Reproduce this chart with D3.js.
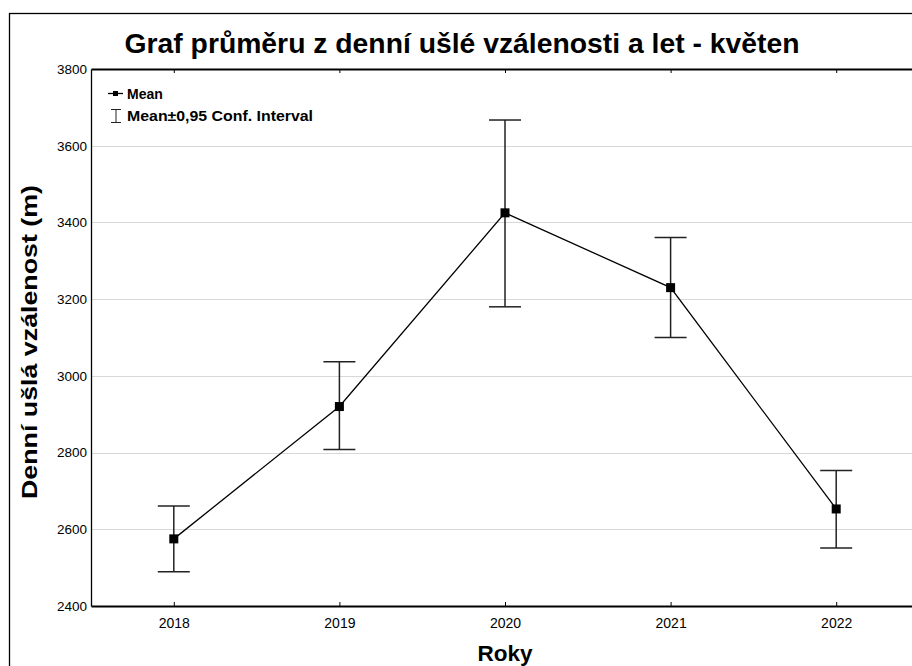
<!DOCTYPE html>
<html>
<head>
<meta charset="utf-8">
<script src="https://cdn.jsdelivr.net/npm/d3@7"></script>
<style>
  body { margin: 0; background: #fff; }
  text { font-family: "Liberation Sans", Arial, sans-serif; }
</style>
</head>
<body>
<svg id="chart"></svg>
<script>
// Data
const years = [2018, 2019, 2020, 2021, 2022];
const means = [2575, 2920, 3425, 3230, 2653];
const upper = [2661, 3037, 3667, 3361, 2753];
const lower = [2489, 2808, 3180, 3100, 2551];
const yTicks = [2400, 2600, 2800, 3000, 3200, 3400, 3600, 3800];

const width = 912;
const height = 666;
const plot = {left: 91, top: 69, right: 919, bottom: 606};

const svg = d3.select("#chart")
  .attr("width", width)
  .attr("height", height);

const xScale = d3.scaleLinear()
  .domain([2017.5, 2022.5])
  .range([plot.left, plot.right]);

const yScale = d3.scaleLinear()
  .domain([2400, 3800])
  .range([plot.bottom, plot.top]);

// outer frame
svg.append("rect")
  .attr("x", 9.5).attr("y", 13.5)
  .attr("width", 1000).attr("height", 1000)
  .attr("fill", "none")
  .attr("stroke", "#000")
  .attr("stroke-width", 1.3);

// gridlines
svg.append("g")
  .selectAll("line")
  .data(yTicks.filter(d => d > 2400 && d < 3800))
  .join("line")
  .attr("x1", plot.left).attr("x2", plot.right)
  .attr("y1", d => Math.round(yScale(d)) + 0.5)
  .attr("y2", d => Math.round(yScale(d)) + 0.5)
  .attr("stroke", "#d8d8d8")
  .attr("stroke-width", 1);

// y axis
const yAxis = svg.append("g")
  .attr("transform", `translate(${plot.left},0)`)
  .call(d3.axisLeft(yScale).tickValues(yTicks).tickFormat(d3.format("d")).tickSize(0).tickPadding(4));
yAxis.select(".domain").attr("stroke-width", 1.3);
yAxis.selectAll("text")
  .attr("font-size", 13.5)
  .attr("font-family", "Liberation Sans, Arial, sans-serif")
  .attr("fill", "#000");

// x axis bottom
const xAxis = svg.append("g")
  .attr("transform", `translate(0,${plot.bottom})`)
  .call(d3.axisBottom(xScale).tickValues(years).tickFormat(d3.format("d")).tickSizeInner(-4).tickSizeOuter(0).tickPadding(12));
xAxis.select(".domain").attr("stroke-width", 2);
xAxis.selectAll("text")
  .attr("font-size", 14)
  .attr("font-family", "Liberation Sans, Arial, sans-serif")
  .attr("fill", "#000");

// x axis top
const xTop = svg.append("g")
  .attr("transform", `translate(0,${plot.top})`)
  .call(d3.axisTop(xScale).tickValues(years).tickFormat("").tickSizeInner(-4).tickSizeOuter(0));
xTop.select(".domain").attr("stroke-width", 2);

// connecting line
const line = d3.line()
  .x((d, i) => xScale(years[i]))
  .y(d => yScale(d));

svg.append("path")
  .datum(means)
  .attr("d", line)
  .attr("fill", "none")
  .attr("stroke", "#000")
  .attr("stroke-width", 1.3);

// error bars
const capHalf = 16;
const bars = svg.append("g")
  .selectAll("g")
  .data(years)
  .join("g")
  .attr("stroke", "#222")
  .attr("stroke-width", 1.5);

bars.append("line")
  .attr("x1", d => xScale(d)).attr("x2", d => xScale(d))
  .attr("y1", (d, i) => yScale(upper[i]))
  .attr("y2", (d, i) => yScale(lower[i]));
bars.append("line")
  .attr("x1", d => xScale(d) - capHalf).attr("x2", d => xScale(d) + capHalf)
  .attr("y1", (d, i) => yScale(upper[i]))
  .attr("y2", (d, i) => yScale(upper[i]));
bars.append("line")
  .attr("x1", d => xScale(d) - capHalf).attr("x2", d => xScale(d) + capHalf)
  .attr("y1", (d, i) => yScale(lower[i]))
  .attr("y2", (d, i) => yScale(lower[i]));

// markers
svg.append("g")
  .selectAll("rect")
  .data(years)
  .join("rect")
  .attr("x", d => xScale(d) - 4.5)
  .attr("y", (d, i) => yScale(means[i]) - 4.5)
  .attr("width", 9)
  .attr("height", 9)
  .attr("fill", "#000");

// legend
const legend = svg.append("g");
legend.append("line")
  .attr("x1", 108).attr("x2", 123)
  .attr("y1", 93.5).attr("y2", 93.5)
  .attr("stroke", "#000").attr("stroke-width", 1.3);
legend.append("rect")
  .attr("x", 113).attr("y", 91).attr("width", 5).attr("height", 5)
  .attr("fill", "#000");
legend.append("text")
  .attr("x", 127).attr("y", 99)
  .attr("font-size", 14).attr("font-weight", "bold")
  .text("Mean");
legend.append("path")
  .attr("d", "M111,109.5H121M116,109.5V122.5M111,122.5H121")
  .attr("stroke", "#222").attr("stroke-width", 1)
  .attr("fill", "none");
legend.append("text")
  .attr("x", 127).attr("y", 121)
  .attr("font-size", 14).attr("font-weight", "bold")
  .attr("textLength", 186)
  .attr("lengthAdjust", "spacingAndGlyphs")
  .text("Mean±0,95 Conf. Interval");

// title
svg.append("text")
  .attr("x", 462).attr("y", 53)
  .attr("text-anchor", "middle")
  .attr("font-size", 28)
  .attr("font-weight", "bold")
  .attr("textLength", 675)
  .attr("lengthAdjust", "spacingAndGlyphs")
  .text("Graf průměru z denní ušlé vzálenosti a let - květen");

// axis titles
svg.append("text")
  .attr("x", (plot.left + plot.right) / 2)
  .attr("y", 661)
  .attr("text-anchor", "middle")
  .attr("font-size", 22)
  .attr("font-weight", "bold")
  .attr("textLength", 55)
  .attr("lengthAdjust", "spacingAndGlyphs")
  .text("Roky");

svg.append("text")
  .attr("transform", `translate(37,342) rotate(-90)`)
  .attr("text-anchor", "middle")
  .attr("font-size", 22)
  .attr("font-weight", "bold")
  .attr("textLength", 314)
  .attr("lengthAdjust", "spacingAndGlyphs")
  .text("Denní ušlá vzálenost (m)");
</script>
</body>
</html>
